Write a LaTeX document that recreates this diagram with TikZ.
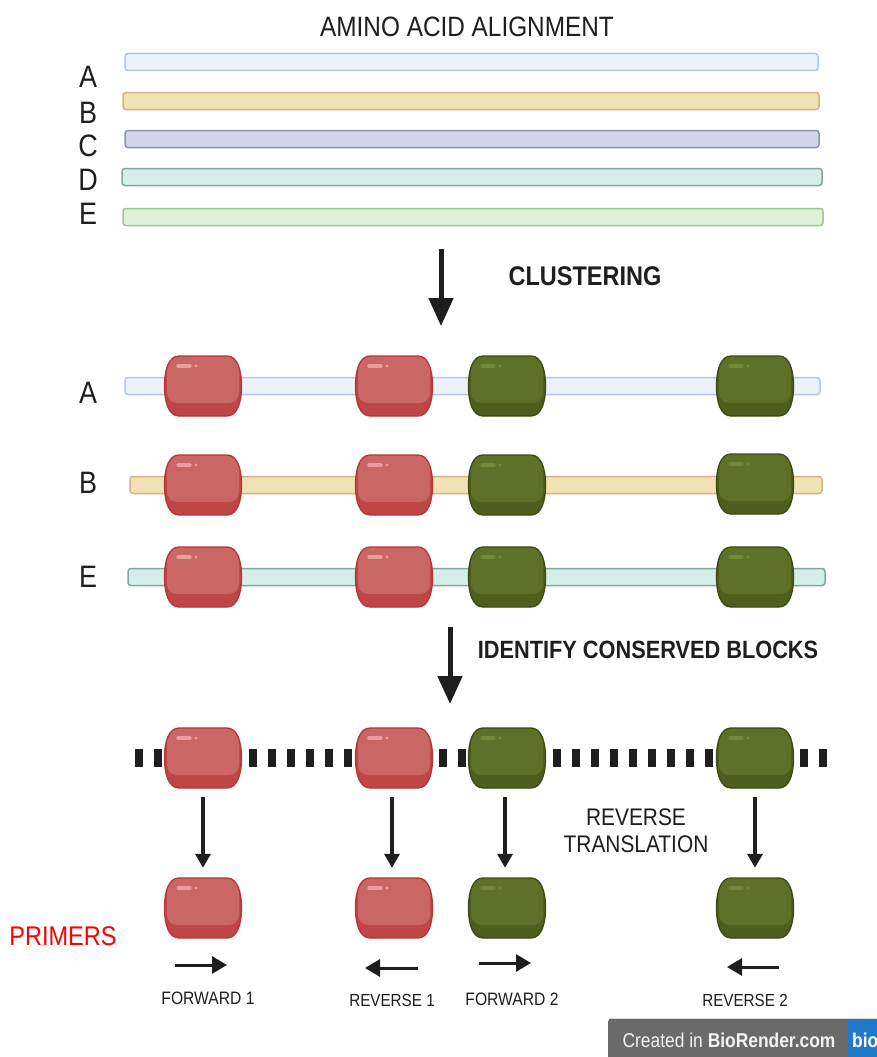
\documentclass[tikz,border=0pt]{standalone}
\usepackage{fontspec}
\setmainfont[FakeStretch=0.87]{Liberation Sans}
\usetikzlibrary{arrows.meta}
\definecolor{aFill}{HTML}{EBF2FB}\definecolor{aLine}{HTML}{B5C7E6}
\definecolor{bFill}{HTML}{F2E1B4}\definecolor{bLine}{HTML}{D2B57C}
\definecolor{cFill}{HTML}{D0D5E8}\definecolor{cLine}{HTML}{8A92B3}
\definecolor{dFill}{HTML}{D5EEEA}\definecolor{dLine}{HTML}{7FA89F}
\definecolor{eFill}{HTML}{DEF2D9}\definecolor{eLine}{HTML}{A0C497}
\definecolor{redMain}{HTML}{CA6663}\definecolor{redDark}{HTML}{BF4646}
\definecolor{redLine}{HTML}{B53538}\definecolor{redHi}{HTML}{E3A19D}
\definecolor{grnMain}{HTML}{5F7029}\definecolor{grnDark}{HTML}{4E5E1C}
\definecolor{grnLine}{HTML}{3C4912}\definecolor{grnHi}{HTML}{74883A}
\definecolor{ink}{HTML}{1E1E1E}
\definecolor{badge}{HTML}{6A6A6A}\definecolor{badgeBlue}{HTML}{1F78C8}
\newcommand\fs[1]{\fontsize{#1}{#1}\selectfont}
\newcommand\drawbead[4]{%
  \node[beadbox] (#1) at (#2,#3) {};
  \begin{scope}[shift={(#1.center)}]
    \fill[#4Dark] (-24,30) -- (24,30) .. controls (34,30) and (38.5,17) .. (38.5,0) .. controls (38.5,-17) and (34,-30) .. (24,-30) -- (-24,-30) .. controls (-34,-30) and (-38.5,-17) .. (-38.5,0) .. controls (-38.5,17) and (-34,30) .. (-24,30) -- cycle;
    \begin{scope}
      \clip (-24,30) -- (24,30) .. controls (34,30) and (38.5,17) .. (38.5,0) .. controls (38.5,-17) and (34,-30) .. (24,-30) -- (-24,-30) .. controls (-34,-30) and (-38.5,-17) .. (-38.5,0) .. controls (-38.5,17) and (-34,30) .. (-24,30) -- cycle;
      \fill[#4Main, rounded corners=10] (-36,-32) rectangle (36,17);
    \end{scope}
    \draw[#4Hi, line width=3.5, line cap=round] (-25,-20) -- (-13,-20);
    \fill[#4Hi] (-7,-20) circle (1.6);
    \draw[#4Line, line width=1.3] (-24,30) -- (24,30) .. controls (34,30) and (38.5,17) .. (38.5,0) .. controls (38.5,-17) and (34,-30) .. (24,-30) -- (-24,-30) .. controls (-34,-30) and (-38.5,-17) .. (-38.5,0) .. controls (-38.5,17) and (-34,30) .. (-24,30) -- cycle;
  \end{scope}}
\begin{document}
\begin{tikzpicture}[x=1pt,y=-1pt,
  bar/.style={rectangle, rounded corners=3, line width=1.5, minimum height=17, inner sep=0},
  beadbox/.style={rectangle, minimum width=77, minimum height=60, inner sep=0},
  lbl/.style={inner sep=0, text=ink},
  bigarr/.style={draw=ink, line width=5, -{Triangle[width=24pt,length=28pt]}},
  downarr/.style={draw=ink, line width=4.5, -{Triangle[width=15pt,length=14pt]}},
  primarr/.style={draw=ink, line width=3, -{Triangle[width=17pt,length=15pt]}}]
\useasboundingbox (0,0) rectangle (877,1057);
\fill[white] (0,0) rectangle (877,1057);
% ---------- alignment ----------
\node[lbl] (title) at (467,27) {\fs{28}AMINO ACID ALIGNMENT};
\node[bar, fill=aFill, draw=aLine, minimum width=693] (tA) at (471.5,62) {};
\node[bar, fill=bFill, draw=bLine, minimum width=696] (tB) at (471,101) {};
\node[bar, fill=cFill, draw=cLine, minimum width=694] (tC) at (472,139) {};
\node[bar, fill=dFill, draw=dLine, minimum width=700] (tD) at (472,177) {};
\node[bar, fill=eFill, draw=eLine, minimum width=700] (tE) at (473,217) {};
\node[lbl] (lA) at (88,77) {\fs{31}A};
\node[lbl] (lB) at (88,113) {\fs{31}B};
\node[lbl] (lC) at (88,146) {\fs{31}C};
\node[lbl] (lD) at (88,180) {\fs{31}D};
\node[lbl] (lE) at (88,214) {\fs{31}E};
% ---------- clustering ----------
\coordinate (a1s) at (441,249);
\coordinate (a1e) at (441,326);
\draw[bigarr] (a1s) -- (a1e);
\node[lbl] (clu) at (585,276) {\fs{27}\bfseries CLUSTERING};
\node[bar, fill=aFill, draw=aLine, minimum width=695] (cA) at (472.5,386) {};
\node[bar, fill=bFill, draw=bLine, minimum width=692] (cB) at (476,485) {};
\node[bar, fill=dFill, draw=dLine, minimum width=697] (cE) at (476.5,577) {};
\node[lbl] (lA2) at (88,393) {\fs{31}A};
\node[lbl] (lB2) at (88,483) {\fs{31}B};
\node[lbl] (lE2) at (88,577) {\fs{31}E};
\drawbead{A1}{203}{386}{red}\drawbead{A2}{394}{386}{red}
\drawbead{A3}{507}{386}{grn}\drawbead{A4}{755}{386}{grn}
\drawbead{B1}{203}{485}{red}\drawbead{B2}{394}{485}{red}
\drawbead{B3}{507}{485}{grn}\drawbead{B4}{755}{484}{grn}
\drawbead{E1}{203}{577}{red}\drawbead{E2}{394}{577}{red}
\drawbead{E3}{507}{577}{grn}\drawbead{E4}{755}{577}{grn}
% ---------- conserved blocks ----------
\coordinate (a2s) at (450,627);
\coordinate (a2e) at (450,704);
\draw[bigarr] (a2s) -- (a2e);
\node[lbl] (icb) at (648,650) {\fs{25}\bfseries IDENTIFY CONSERVED BLOCKS};
\coordinate (dl) at (135,758);
\coordinate (dr) at (830,758);
\draw[ink, line width=18, dash pattern=on 8 off 11] (dl) -- (dr);
\drawbead{S1}{203}{758}{red}\drawbead{S2}{394}{758}{red}
\drawbead{S3}{507}{758}{grn}\drawbead{S4}{755}{758}{grn}
\node[lbl, align=center, font=\fontsize{24}{27}\selectfont] (rt) at (636,831) {REVERSE\\TRANSLATION};
% ---------- primers ----------
\drawbead{P1}{203}{908}{red}\drawbead{P2}{394}{908}{red}
\drawbead{P3}{507}{908}{grn}\drawbead{P4}{755}{908}{grn}
\draw[downarr, shorten <=9pt, shorten >=10pt] (S1.south) -- (P1.north);
\draw[downarr, shorten <=9pt, shorten >=10pt] ([xshift=-2pt]S2.south) -- ([xshift=-2pt]P2.north);
\draw[downarr, shorten <=9pt, shorten >=10pt] ([xshift=-2pt]S3.south) -- ([xshift=-2pt]P3.north);
\draw[downarr, shorten <=9pt, shorten >=10pt] (S4.south) -- (P4.north);
\node[lbl, text=red] (prim) at (63,936) {\fs{27}PRIMERS};
\coordinate (f1s) at (175,965);\coordinate (f1e) at (227,965);
\coordinate (r1s) at (418,968);\coordinate (r1e) at (365,968);
\coordinate (f2s) at (479,963);\coordinate (f2e) at (531,963);
\coordinate (r2s) at (779,967);\coordinate (r2e) at (727,967);
\draw[primarr] (f1s) -- (f1e);
\draw[primarr] (r1s) -- (r1e);
\draw[primarr] (f2s) -- (f2e);
\draw[primarr] (r2s) -- (r2e);
\node[lbl] (tf1) at (208,998) {\fs{18}FORWARD 1};
\node[lbl] (tr1) at (392,1000) {\fs{17.5}REVERSE 1};
\node[lbl] (tf2) at (512,999) {\fs{18}FORWARD 2};
\node[lbl] (tr2) at (745,1000) {\fs{17.5}REVERSE 2};
% ---------- badge ----------
\begin{scope}
  \clip (0,0) rectangle (877,1057);
  \fill[badge, rounded corners=4] (608,1018) rectangle (900,1070);
  \draw[white!75!badge, line width=1] (611,1018.5) -- (877,1018.5);
  \fill[badgeBlue] (848,1019) rectangle (900,1070);
  \node[lbl, text=white] (bio) at (852,1040) [anchor=west] {\fs{20}\bfseries bio};
  \node[lbl, text=white!92!badge] (cre) at (729,1040) {\fs{20}Created in \bfseries BioRender.com};
\end{scope}
\end{tikzpicture}
\end{document}
